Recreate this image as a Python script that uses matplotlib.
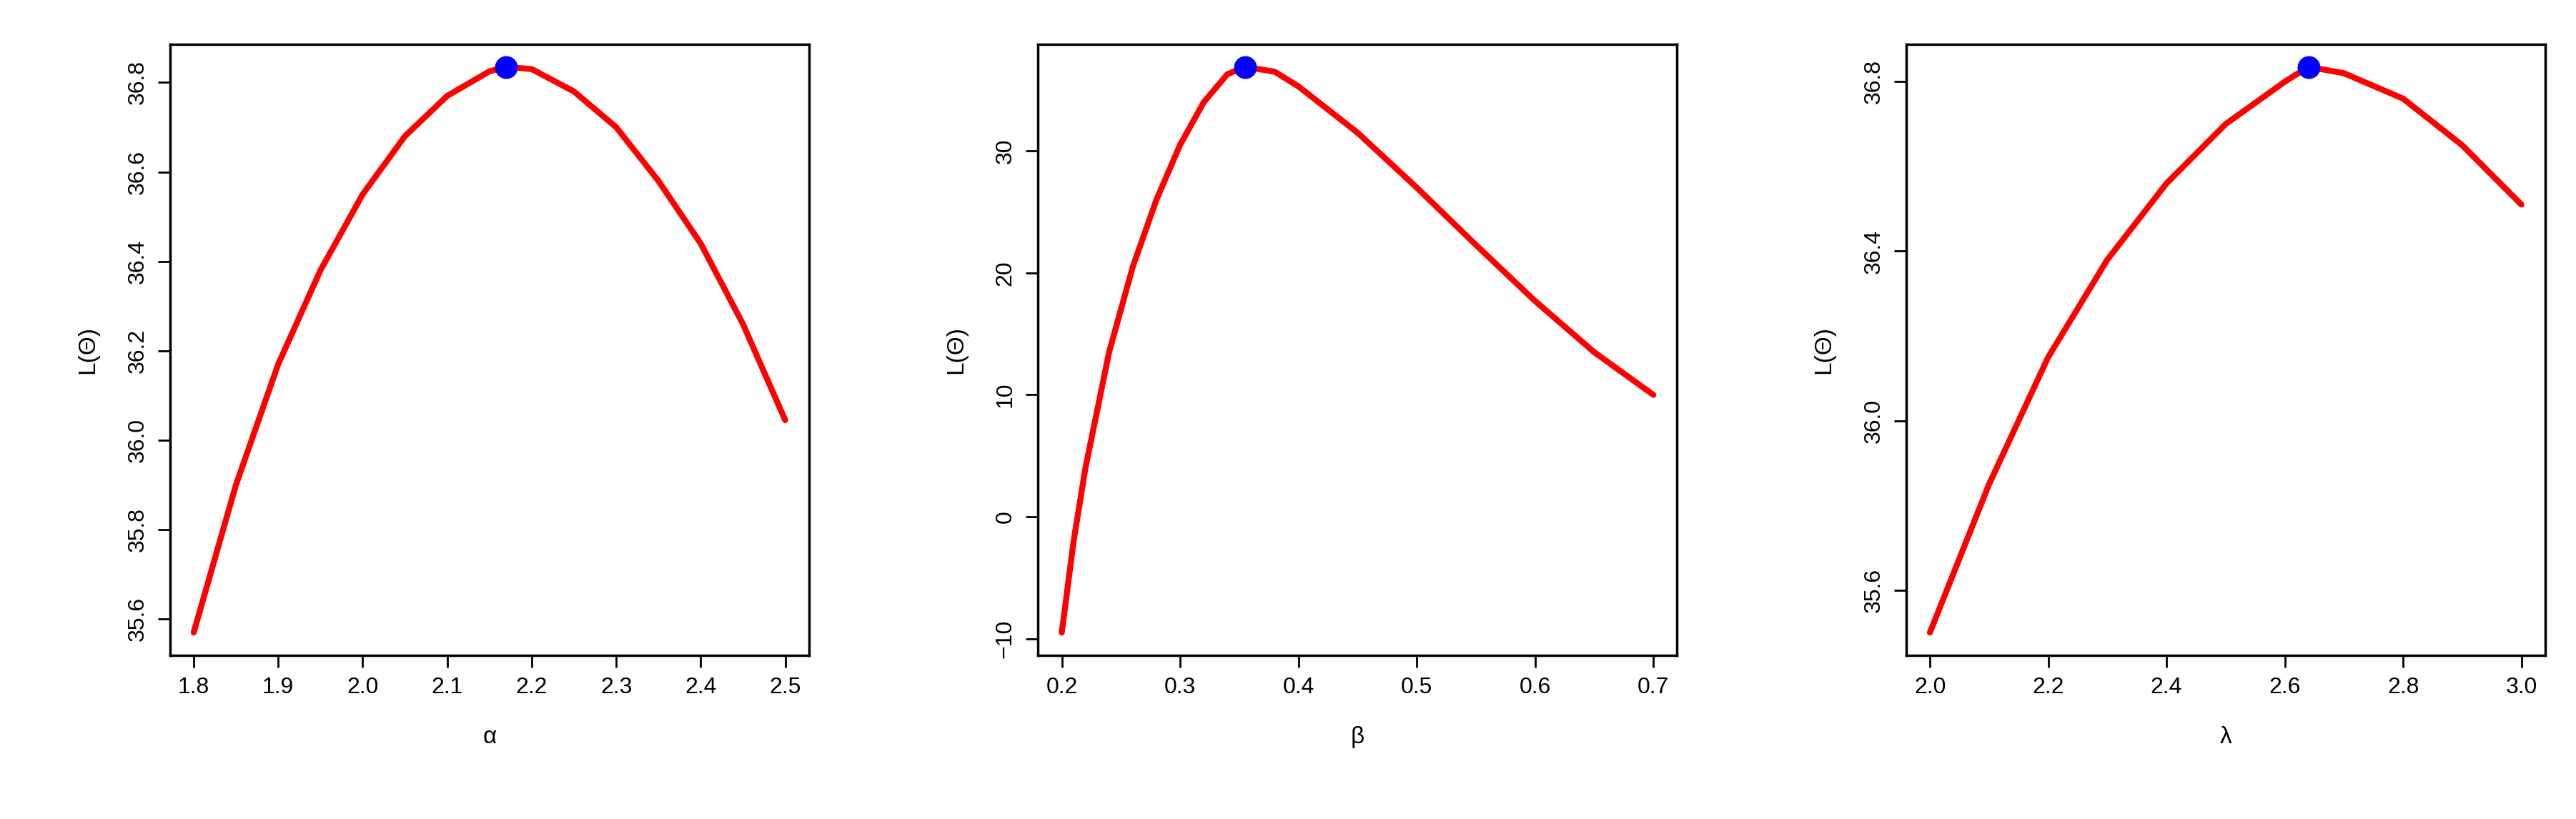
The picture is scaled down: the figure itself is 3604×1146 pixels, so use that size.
import matplotlib
matplotlib.use("Agg")
import matplotlib.pyplot as plt

plt.rcParams['font.family'] = ['Liberation Sans', 'DejaVu Sans']

alpha_x = [1.8, 1.85, 1.9, 1.95, 2.0, 2.05, 2.1, 2.15, 2.17, 2.2, 2.25, 2.3, 2.35, 2.4, 2.45, 2.5]
alpha_y = [35.57, 35.90, 36.17, 36.38, 36.55, 36.68, 36.77, 36.825, 36.835, 36.83, 36.78, 36.70, 36.58, 36.44, 36.26, 36.045]
beta_x = [0.2, 0.21, 0.22, 0.24, 0.26, 0.28, 0.30, 0.32, 0.34, 0.355, 0.38, 0.40, 0.45, 0.50, 0.55, 0.60, 0.65, 0.70]
beta_y = [-9.5, -2, 4, 13.5, 20.5, 26, 30.5, 34, 36.3, 36.9, 36.5, 35.3, 31.5, 27, 22.3, 17.7, 13.5, 10]
lam_x = [2.0, 2.1, 2.2, 2.3, 2.4, 2.5, 2.6, 2.64, 2.7, 2.8, 2.9, 3.0]
lam_y = [35.5, 35.85, 36.15, 36.38, 36.56, 36.70, 36.80, 36.835, 36.82, 36.76, 36.65, 36.51]
peaks = [(2.17, 36.835), (0.355, 36.9), (2.64, 36.835)]
xlabels = ['α', 'β', 'λ']
xticks = [[1.8, 1.9, 2.0, 2.1, 2.2, 2.3, 2.4, 2.5], [0.2, 0.3, 0.4, 0.5, 0.6, 0.7], [2.0, 2.2, 2.4, 2.6, 2.8, 3.0]]
yticks = [[35.6, 35.8, 36.0, 36.2, 36.4, 36.6, 36.8], [-10, 0, 10, 20, 30], [35.6, 36.0, 36.4, 36.8]]
xfmt = ['{:.1f}', '{:.1f}', '{:.1f}']
yfmt = ['{:.1f}', '{:g}', '{:.1f}']

fig = plt.figure(figsize=(36.04, 11.46), dpi=100)
lefts = [0.066, 0.403, 0.740]
data = [(alpha_x, alpha_y), (beta_x, beta_y), (lam_x, lam_y)]
for i in range(3):
    ax = fig.add_axes([lefts[i], 0.20, 0.248, 0.746])
    x, y = data[i]
    ax.plot(x, y, color='red', lw=6, solid_capstyle='round')
    ax.plot([peaks[i][0]], [peaks[i][1]], 'o', color='blue', ms=22)
    xr = x[-1] - x[0]; yr = max(y) - min(y)
    ax.set_xlim(x[0] - 0.04 * xr, x[-1] + 0.04 * xr)
    ax.set_ylim(min(y) - 0.04 * yr, max(y) + 0.04 * yr)
    ax.set_xticks(xticks[i])
    ax.set_xticklabels([xfmt[i].format(t).replace('-', '−') for t in xticks[i]])
    ax.set_yticks(yticks[i])
    ax.set_yticklabels([yfmt[i].format(t).replace('-', '−') for t in yticks[i]], rotation=90, va='center')
    ax.tick_params(labelsize=23, length=12, width=2, pad=10)
    for s in ax.spines.values():
        s.set_linewidth(2.5)
    ax.set_xlabel(xlabels[i], fontsize=24, labelpad=28)
    ax.set_ylabel('L(Θ)', fontsize=24, labelpad=28)

fig.savefig('out.png', dpi=100)
